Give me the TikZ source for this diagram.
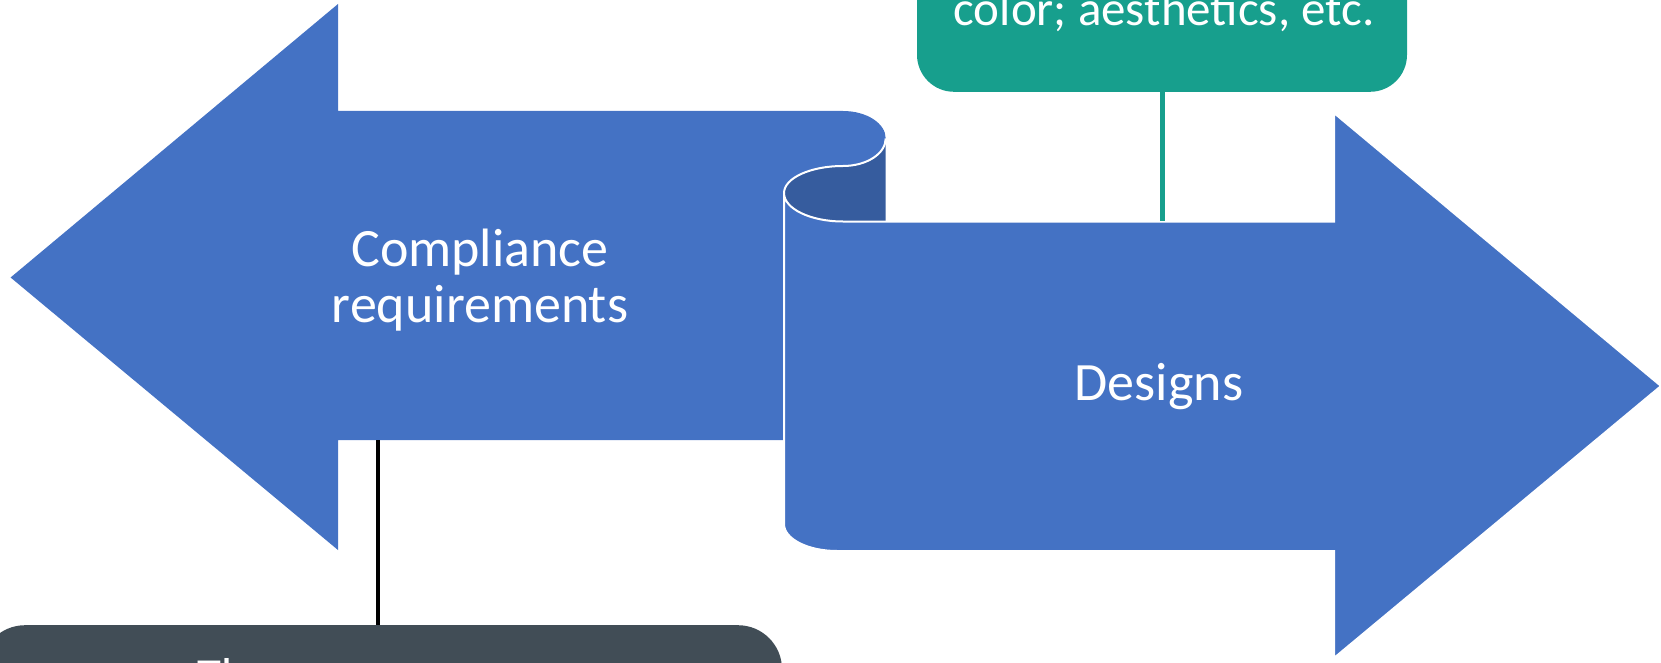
\documentclass[tikz,border=0pt]{standalone}
\usepackage{fontspec}
\setmainfont{Carlito}
\definecolor{arrowblue}{HTML}{4472C4}
\definecolor{darkblue}{HTML}{365C9E}
\definecolor{tealc}{HTML}{179F8D}
\definecolor{grayc}{HTML}{414D56}
\tikzset{
  bigtext/.style={text=white, font=\fontsize{54}{58}\selectfont, inner sep=0pt, anchor=base},
  smalltext/.style={text=white, font=\fontsize{49}{58}\selectfont, inner sep=0pt, anchor=base},
  arrowfill/.style={fill=arrowblue},
  boxteal/.style={fill=tealc, rounded corners=37pt, minimum width=490pt, minimum height=300pt, inner sep=0pt},
  boxgray/.style={fill=grayc, rounded corners=44pt, minimum width=801pt, minimum height=200pt, inner sep=0pt},
  tealline/.style={draw=tealc, line width=5pt},
  blackline/.style={draw=black, line width=4pt},
  seam/.style={draw=white, line width=2pt}
}
\begin{document}
\begin{tikzpicture}[x=1pt,y=-1pt]
\useasboundingbox (0,0) rectangle (1661,663);
\clip (0,0) rectangle (1661,663);
% left arrow with top curl
\fill[arrowfill] (10.6,277.5) -- (338,4) -- (338,111) -- (843,111)
  arc[start angle=-90, end angle=90, x radius=42.7, y radius=27.5]
  arc[start angle=-90, end angle=-180, x radius=59, y radius=27]
  -- (784,440) -- (338,440) -- (338,550) -- cycle;
% dark back of the scroll
\fill[darkblue] (885.7,138.5)
  arc[start angle=0, end angle=90, x radius=42.7, y radius=27.5]
  arc[start angle=-90, end angle=-180, x radius=59, y radius=27]
  arc[start angle=180, end angle=90, x radius=59, y radius=28.5]
  -- (885.7,221.5) -- cycle;
% right arrow
\filldraw[arrowfill, seam] (843,221.5) -- (1334,221.5) -- (1334,113) -- (1661,386) -- (1334,658) -- (1334,551) -- (837,551)
  arc[start angle=90, end angle=180, x radius=53, y radius=27]
  -- (784,193)
  arc[start angle=180, end angle=90, x radius=59, y radius=28.5] -- cycle;
% seam of the top curl
\draw[seam] (885.7,138.5)
  arc[start angle=0, end angle=90, x radius=42.7, y radius=27.5]
  arc[start angle=-90, end angle=-180, x radius=59, y radius=27];
% labels
\node[bigtext] (comp1) at (480,266) {Compliance};
\node[bigtext] (comp2) at (480,322) {requirements};
\node[bigtext] (designs) at (1159,400) {Designs};
% teal box
\node[boxteal, anchor=south] (tealbox) at (1162,92) {};
\node[smalltext] (tealtxt) at (1164,26) {color; aesthetics, etc.};
\coordinate (ratop) at (1162,221);
\draw[tealline] (tealbox.south) -- (ratop);
% gray box
\node[boxgray, anchor=north] (graybox) at (381.5,625) {};
\node[smalltext, anchor=base west] (graytxt) at (197,692) {Th};
\coordinate (labot) at (378,440);
\draw[blackline] (labot) -- (labot |- graybox.north);
\end{tikzpicture}
\end{document}
